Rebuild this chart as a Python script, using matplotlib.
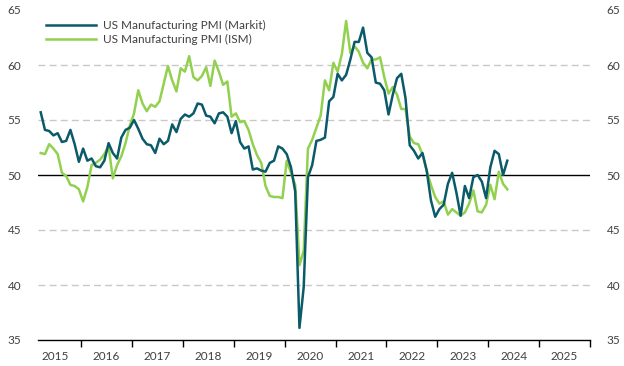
import matplotlib
matplotlib.use("Agg")
import matplotlib.pyplot as plt
import numpy as np

start_year, start_month = 2015, 3  # first observation: March 2015

markit = [
    55.7, 54.1, 54.0, 53.6, 53.8, 53.0, 53.1, 54.1, 52.8, 51.2,
    52.4, 51.3, 51.5, 50.8, 50.7, 51.3, 52.9, 52.0, 51.5, 53.4, 54.1, 54.3,
    55.0, 54.2, 53.3, 52.8, 52.7, 52.0, 53.3, 52.8, 53.1, 54.6, 53.9, 55.1,
    55.5, 55.3, 55.6, 56.5, 56.4, 55.4, 55.3, 54.7, 55.6, 55.7, 55.3, 53.8,
    54.9, 53.0, 52.4, 52.6, 50.5, 50.6, 50.4, 50.3, 51.1, 51.3, 52.6, 52.4,
    51.9, 50.7, 48.5, 36.1, 39.8, 49.8, 50.9, 53.1, 53.2, 53.4, 56.7, 57.1,
    59.2, 58.6, 59.1, 60.5, 62.1, 62.1, 63.4, 61.1, 60.7, 58.4, 58.3, 57.7,
    55.5, 57.3, 58.8, 59.2, 57.0, 52.7, 52.2, 51.5, 52.0, 50.4, 47.7, 46.2,
    46.9, 47.3, 49.2, 50.2, 48.4, 46.3, 49.0, 47.9, 49.8, 50.0, 49.4, 47.9,
    50.7, 52.2, 51.9, 50.0, 51.3,
]

ism = [
    52.0, 51.9, 52.8, 52.4, 51.9, 50.2, 49.9, 49.1, 49.0, 48.7,
    47.6, 48.9, 50.9, 51.1, 51.4, 51.9, 52.6, 49.7, 50.9, 51.7, 52.9, 54.5,
    55.6, 57.7, 56.5, 55.8, 56.4, 56.2, 56.7, 58.3, 59.9, 58.6, 57.6, 59.7,
    59.4, 60.8, 58.9, 58.6, 59.0, 59.8, 58.1, 60.4, 59.4, 58.2, 58.5, 55.3,
    55.6, 54.8, 54.9, 54.1, 52.8, 51.8, 51.1, 49.0, 48.1, 48.0, 48.0, 47.9,
    51.3, 50.2, 49.1, 41.8, 43.1, 52.4, 53.2, 54.3, 55.4, 58.6, 57.7, 60.2,
    59.4, 61.0, 64.0, 61.1, 61.7, 61.2, 60.2, 59.7, 60.5, 60.5, 60.7, 58.9,
    57.4, 58.0, 57.3, 56.0, 56.0, 53.5, 52.9, 52.8, 51.9, 50.4, 49.1, 48.0,
    47.4, 47.6, 46.4, 46.9, 46.6, 46.3, 46.6, 47.4, 48.6, 46.7, 46.6, 47.3,
    49.1, 47.8, 50.3, 49.2, 48.7,
]

series_labels = ["US Manufacturing PMI (Markit)", "US Manufacturing PMI (ISM)"]
year_labels = [str(y) for y in range(2015, 2026)]
y_ticks = [35, 40, 45, 50, 55, 60, 65]

n = len(markit)
t = np.array([start_year + (start_month - 1 + i + 0.5) / 12.0 for i in range(n)])

plt.rcParams['font.family'] = ['Lato', 'DejaVu Sans']
text_color = '#404040'

fig = plt.figure(figsize=(6.24, 3.66), dpi=100)
ax = fig.add_axes([38 / 624, 1 - 340 / 366, (590 - 38) / 624, (340 - 10) / 366])

for y in [40, 45, 55, 60]:
    ax.axhline(y, color='#c8c8c8', lw=1.0, ls=(0, (5, 3)), zorder=1)
ax.axhline(50, color='black', lw=1.0, zorder=2)

ax.plot(t, markit, color='#0b5a6a', lw=1.8, label=series_labels[0], zorder=4)
ax.plot(t, ism, color='#92d050', lw=1.8, label=series_labels[1], zorder=3)

ax.set_xlim(2015.155, 2026)
ax.set_ylim(35, 65)

for s in ['left', 'right', 'top']:
    ax.spines[s].set_visible(False)
ax.spines['bottom'].set_color('black')
ax.spines['bottom'].set_linewidth(1.0)

ax.set_xticks(range(2016, 2027))
ax.set_xticklabels([])
ax.tick_params(axis='x', which='major', length=5, width=1, color='black', direction='out')
ax.set_xticks([y + 0.5 for y in range(2015, 2026)], minor=True)
ax.set_xticklabels(year_labels, minor=True)
ax.tick_params(axis='x', which='minor', length=0, pad=8, labelsize=8.5, labelcolor=text_color)

ax.set_yticks(y_ticks)
ax.tick_params(axis='y', which='both', length=0, labelsize=8.5, labelcolor=text_color,
               left=True, right=True, labelleft=True, labelright=True)
ax.tick_params(axis='y', pad=12)
for lab in ax.get_yticklabels():
    pass
ax.yaxis.set_tick_params(which='major', pad=12)

leg = ax.legend(loc='upper left', bbox_to_anchor=(0.0, 0.995), frameon=False,
                fontsize=8.5, handlelength=4.2, handletextpad=0.6,
                labelspacing=0.25, borderaxespad=0.3)
for txt in leg.get_texts():
    txt.set_color(text_color)

fig.savefig('out.png', dpi=100)
